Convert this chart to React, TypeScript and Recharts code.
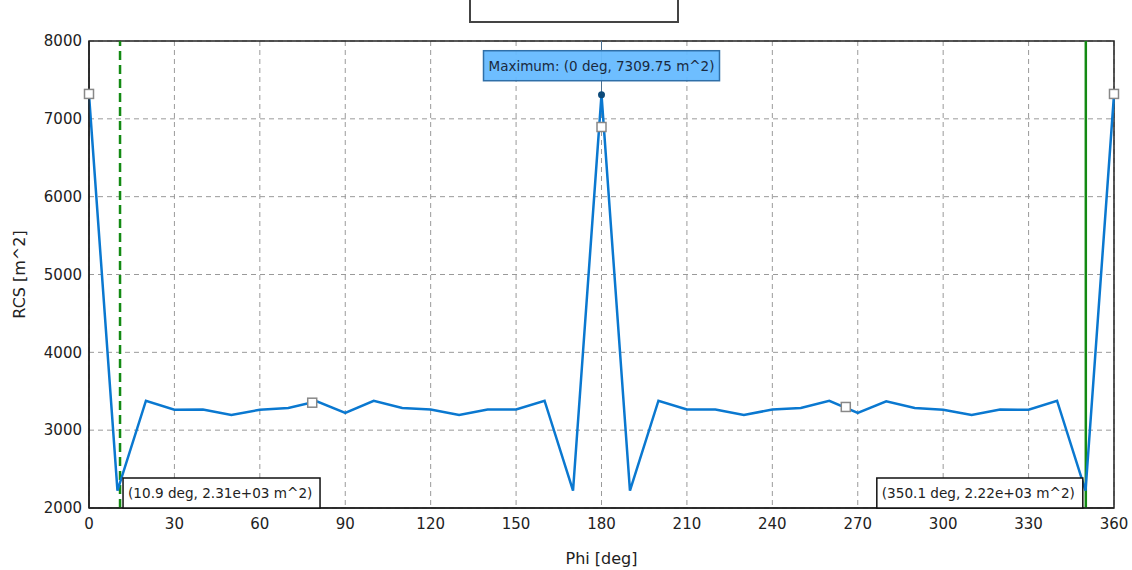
import React from 'react'
import { LineChart, Line, XAxis, YAxis, CartesianGrid, ReferenceLine, ReferenceDot, ReferenceArea, Label } from 'recharts'

const phi = [0, 10, 20, 30, 40, 50, 60, 70, 80, 90, 100, 110, 120, 130, 140, 150, 160, 170, 180,
  190, 200, 210, 220, 230, 240, 250, 260, 270, 280, 290, 300, 310, 320, 330, 340, 350, 360]
const rcs = [7310, 2222, 3378, 3262, 3265, 3195, 3262, 3285, 3370, 3222, 3378, 3285, 3265, 3195, 3265, 3265, 3378, 2222, 7310,
  2222, 3378, 3265, 3265, 3195, 3265, 3285, 3378, 3222, 3370, 3285, 3262, 3195, 3265, 3262, 3378, 2222, 7310]

const xTicks = [0, 30, 60, 90, 120, 150, 180, 210, 240, 270, 300, 330, 360]
const yTicks = [2000, 3000, 4000, 5000, 6000, 7000, 8000]

// white square cursor markers
const markerPhi = [0, 78.4, 180, 265.8, 360]
const markerRcs = [7320, 3353, 6895, 3298, 7320]

const cursorLeft = { phi: 10.9, text: '(10.9 deg, 2.31e+03 m^2)' }
const cursorRight = { phi: 350.1, text: '(350.1 deg, 2.22e+03 m^2)' }
const maxPoint = { phi: 180, rcs: 7309.75, text: 'Maximum: (0 deg, 7309.75 m^2)' }

const data = phi.map((p, i) => ({ phi: p, rcs: rcs[i] }))

const FONT = '"DejaVu Sans", sans-serif'

const Square = (props: any) => (
  <rect x={props.cx - 4.5} y={props.cy - 4.5} width={9} height={9} fill="#fff" stroke="#888" strokeWidth={1.5} />
)

const CursorBox = ({ cx, cy, text, side }: any) => {
  const w = side === 'left' ? 197 : 206
  const x = side === 'left' ? cx + 3 : cx - 3 - w
  return (
    <g>
      <rect x={x} y={cy - 30} width={w} height={30} fill="#fff" stroke="#111" strokeWidth={1.5} />
      <text x={x + 5} y={cy - 10} fontFamily={FONT} fontSize={13.6} fill="#222">{text}</text>
    </g>
  )
}

const MaxMarker = ({ cx, cy }: any) => (
  <g>
    <line x1={cx} y1={cy - 54} x2={cx} y2={cy} stroke="#4a6f90" strokeWidth={1} />
    <rect x={cx - 118} y={cy - 44} width={236} height={30} fill="#66bbff" fillOpacity={0.95} stroke="#2f6fa8" strokeWidth={1.5} />
    <text x={cx - 113} y={cy - 24} fontFamily={FONT} fontSize={13.5} fill="#1a2a40">{maxPoint.text}</text>
    <circle cx={cx} cy={cy} r={3.5} fill="#0d4a7a" />
  </g>
)

export default function App() {
  return (
    <div style={{ position: 'absolute', left: 0, top: 0, width: 1132, height: 570, background: '#fff' }}>
      <div style={{ position: 'absolute', left: 469, top: -10, width: 206, height: 31, borderLeft: '2px solid #444', borderRight: '2px solid #444', borderBottom: '2px solid #444' }} />
      <LineChart width={1132} height={570} data={data} margin={{ top: 41, right: 18, bottom: 0, left: 0 }}>
        <CartesianGrid stroke="#9a9a9a" strokeDasharray="5 4" horizontalValues={yTicks} verticalValues={xTicks} />
        <ReferenceArea x1={0} x2={360} y1={2000} y2={8000} fill="none" stroke="#222" strokeWidth={1.5} />
        <XAxis dataKey="phi" type="number" domain={[0, 360]} ticks={xTicks} interval={0} height={62}
          axisLine={{ stroke: '#222', strokeWidth: 1.5 }} tickLine={false} tickSize={6} tickMargin={4}
          tick={{ fill: '#222', fontSize: 15, fontFamily: FONT }}>
          <Label value="Phi [deg]" position="insideBottom" offset={6} fill="#222" fontSize={16} fontFamily={FONT} />
        </XAxis>
        <YAxis type="number" domain={[2000, 8000]} ticks={yTicks} interval={0} width={89}
          axisLine={{ stroke: '#222', strokeWidth: 1.5 }} tickLine={false} tickSize={4} tickMargin={3}
          tick={{ fill: '#222', fontSize: 15, fontFamily: FONT }}>
          <Label value="RCS [m^2]" angle={-90} position="insideLeft" offset={19} fill="#222" fontSize={16} fontFamily={FONT} style={{ textAnchor: 'middle' }} />
        </YAxis>
        <ReferenceLine x={cursorLeft.phi} stroke="#138a13" strokeWidth={2.5} strokeDasharray="9 5" />
        <ReferenceLine x={cursorRight.phi} stroke="#138a13" strokeWidth={2.5} />
        <Line type="linear" dataKey="rcs" stroke="#0a78d0" strokeWidth={2.5} dot={false} isAnimationActive={false} />
        {markerPhi.map((p, i) => (
          <ReferenceDot key={i} x={p} y={markerRcs[i]} r={4} shape={Square} ifOverflow="visible" />
        ))}
        <ReferenceDot x={maxPoint.phi} y={maxPoint.rcs} r={3} ifOverflow="visible" shape={(p: any) => <MaxMarker cx={p.cx} cy={p.cy} />} />
        <ReferenceDot x={cursorLeft.phi} y={2000} r={0} ifOverflow="visible"
          shape={(p: any) => <CursorBox cx={p.cx} cy={p.cy} text={cursorLeft.text} side="left" />} />
        <ReferenceDot x={cursorRight.phi} y={2000} r={0} ifOverflow="visible"
          shape={(p: any) => <CursorBox cx={p.cx} cy={p.cy} text={cursorRight.text} side="right" />} />
      </LineChart>
    </div>
  )
}
